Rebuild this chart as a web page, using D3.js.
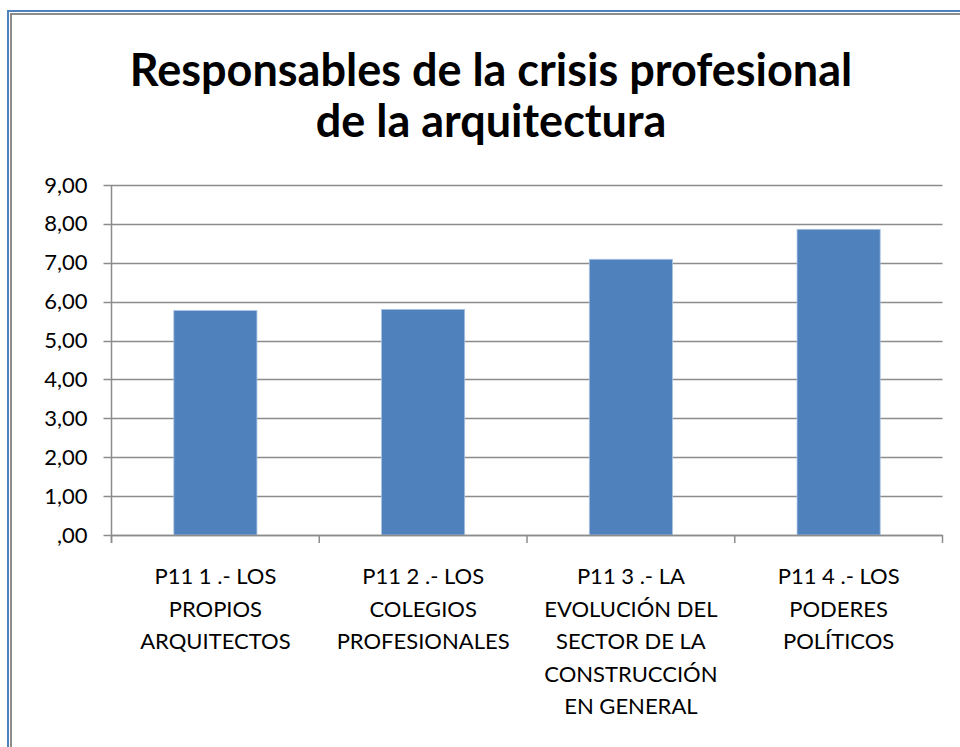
<!DOCTYPE html>
<html>
<head>
<meta charset="UTF-8" />
<title>Responsables de la crisis profesional</title>
<script src="https://d3js.org/d3.v7.min.js"></script>
<style>
body { margin: 0; background: white; }
svg text { font-family: Lato, "Open Sans", sans-serif; fill: #000; }
</style>
</head>
<body>
<svg id="chart" width="960" height="747"></svg>
<script>
// datos
var categories = [
    ["P11 1 .- LOS", "PROPIOS", "ARQUITECTOS"],
    ["P11 2 .- LOS", "COLEGIOS", "PROFESIONALES"],
    ["P11 3 .- LA", "EVOLUCIÓN DEL", "SECTOR DE LA", "CONSTRUCCIÓN", "EN GENERAL"],
    ["P11 4 .- LOS", "PODERES", "POLÍTICOS"]
];
var values = [5.77, 5.80, 7.09, 7.86];
var yTicks = [0, 1, 2, 3, 4, 5, 6, 7, 8, 9];
var titleLines = ["Responsables de la crisis profesional", "de la arquitectura"];

var svg = d3.select("#chart");

// marco
svg.append("rect").attr("x", 8).attr("y", 11).attr("width", 1000).attr("height", 800)
    .attr("fill", "none").attr("stroke", "#4f81bd").attr("stroke-width", 2);
svg.append("rect").attr("x", 11).attr("y", 14).attr("width", 1000).attr("height", 800)
    .attr("fill", "none").attr("stroke", "#8c8c8c").attr("stroke-width", 2);

var plotLeft = 111.5, plotRight = 942.5, plotTop = 185, plotBottom = 535;

var x = d3.scaleBand().domain(d3.range(categories.length)).range([plotLeft, plotRight]).paddingInner(0.6).paddingOuter(0.3);
var xc = d3.scaleBand().domain(d3.range(categories.length)).range([plotLeft, plotRight]);
var y = d3.scaleLinear().domain([0, 9]).range([plotBottom, plotTop]);

// titulo
svg.append("g").selectAll("text").data(titleLines).enter().append("text")
    .attr("x", 491).attr("y", function(d, i) { return 86 + i * 51; })
    .attr("text-anchor", "middle")
    .style("font-size", "45px").style("font-weight", "bold")
    .text(function(d) { return d; });

// rejilla
svg.append("g").selectAll("line").data(yTicks).enter().append("line")
    .attr("x1", plotLeft - 8).attr("x2", plotRight)
    .attr("y1", function(d) { return Math.round(y(d)) + 0.5; })
    .attr("y2", function(d) { return Math.round(y(d)) + 0.5; })
    .attr("stroke", "#8c8c8c").attr("stroke-width", 1.5);

// eje y
var fmt = function(d) { return d === 0 ? ",00" : d3.format(".2f")(d).replace(".", ","); };
var yAxis = svg.append("g").attr("transform", "translate(" + plotLeft + ",0)")
    .call(d3.axisLeft(y).tickValues(yTicks).tickFormat(fmt).tickSize(8).tickPadding(16));
yAxis.select(".domain").remove();
yAxis.selectAll("line").remove();
yAxis.selectAll("text").style("font-size", "22px").style("font-family", "Lato, sans-serif").attr("fill", "#000");

svg.append("line").attr("x1", plotLeft).attr("x2", plotLeft).attr("y1", plotTop).attr("y2", plotBottom + 8)
    .attr("stroke", "#8c8c8c").attr("stroke-width", 1.5);

// barras
svg.append("g").selectAll("rect").data(values).enter().append("rect")
    .attr("x", function(d, i) { return x(i); })
    .attr("width", x.bandwidth())
    .attr("y", function(d) { return y(d); })
    .attr("height", function(d) { return y(0) - y(d); })
    .attr("fill", "#4f81bd")
    .attr("stroke", "#a9c1e3").attr("stroke-width", 0.8);

// eje x
var xAxis = svg.append("g").attr("transform", "translate(0," + plotBottom + ")");
xAxis.append("line").attr("x1", plotLeft).attr("x2", plotRight).attr("y1", 0.5).attr("y2", 0.5)
    .attr("stroke", "#8c8c8c").attr("stroke-width", 1.5);
xAxis.selectAll(".tk").data(d3.range(categories.length + 1)).enter().append("line")
    .attr("x1", function(d) { return d < categories.length ? xc(d) : plotRight; })
    .attr("x2", function(d) { return d < categories.length ? xc(d) : plotRight; })
    .attr("y1", 0).attr("y2", 8)
    .attr("stroke", "#8c8c8c").attr("stroke-width", 1.5);

var labels = xAxis.selectAll(".lbl").data(categories).enter().append("text")
    .attr("text-anchor", "middle")
    .style("font-size", "22px")
    .attr("transform", function(d, i) { return "translate(" + (xc(i) + xc.bandwidth() / 2) + ",49)"; });
labels.selectAll("tspan").data(function(d) { return d; }).enter().append("tspan")
    .attr("x", 0).attr("dy", function(d, i) { return i === 0 ? 0 : 32.5; })
    .text(function(d) { return d; });
</script>
</body>
</html>
